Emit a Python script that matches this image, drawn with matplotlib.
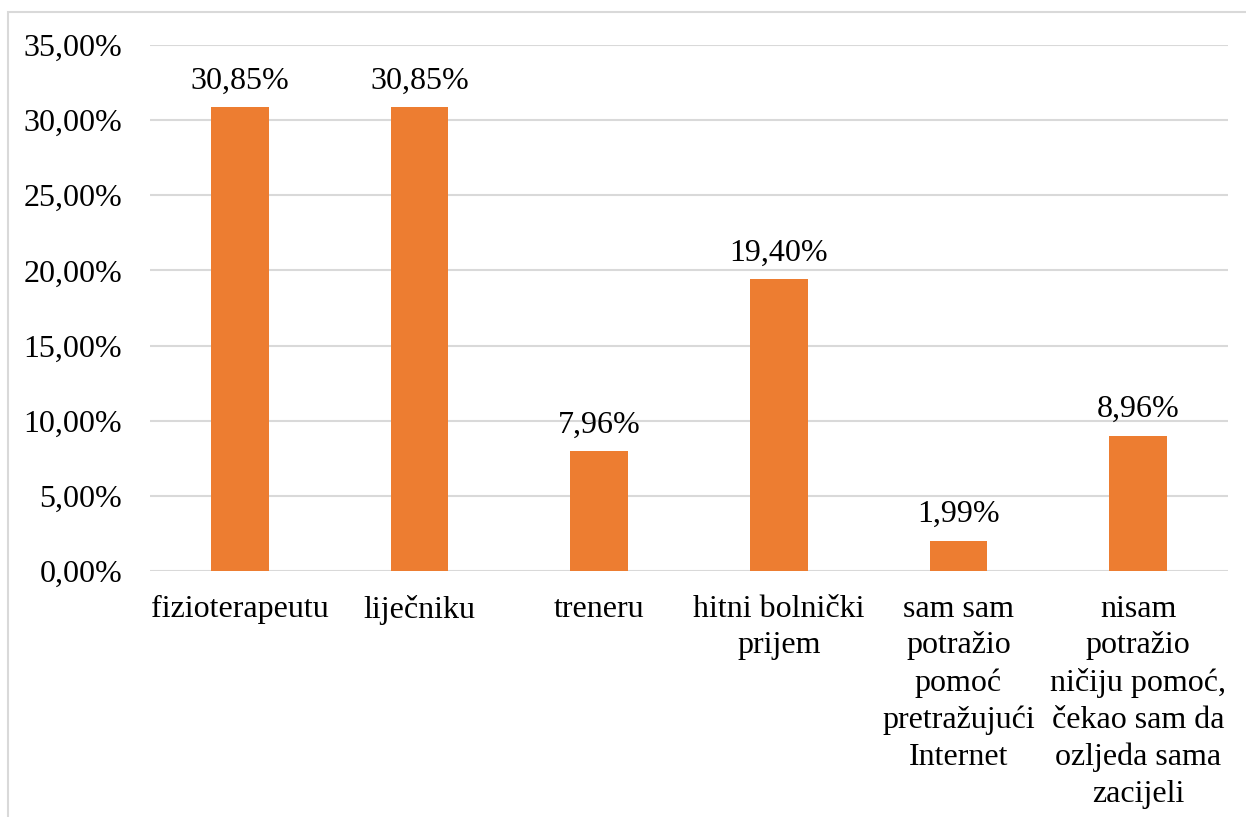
import matplotlib
matplotlib.use("Agg")
import matplotlib.pyplot as plt
from matplotlib.patches import Rectangle
from matplotlib.ticker import FuncFormatter

kategorije = ["fizioterapeutu", "liječniku", "treneru", "hitni bolnički\nprijem",
              "sam sam\npotražio\npomoć\npretražujući\nInternet",
              "nisam\npotražio\nničiju pomoć,\nčekao sam da\nozljeda sama\nzacijeli"]
postoci = [30.85, 30.85, 7.96, 19.40, 1.99, 8.96]
y_ticks = [0, 5, 10, 15, 20, 25, 30, 35]

plt.rcParams['font.family'] = ['Liberation Serif', 'DejaVu Serif']
fs = 23

fig = plt.figure(figsize=(12.46, 8.17), dpi=100)
ax = fig.add_axes([150/1246, 246/817, 1078/1246, 526/817])

x = range(len(kategorije))
bars = ax.bar(x, postoci, width=0.32, color="#ed7d31", zorder=3)
for b, v in zip(bars, postoci):
    ax.text(b.get_x() + b.get_width()/2, v + 0.8, ("%.2f" % v).replace(".", ",") + "%",
            ha="center", va="bottom", fontsize=fs)

ax.set_xlim(-0.5, len(kategorije) - 0.5)
ax.set_ylim(0, 35)
ax.set_yticks(y_ticks)
ax.yaxis.set_major_formatter(FuncFormatter(lambda v, p: ("%.2f" % v).replace(".", ",") + "%"))
ax.set_xticks(list(x))
ax.set_xticklabels(kategorije, fontsize=fs, linespacing=1.35, va="top")
ax.tick_params(axis="y", labelsize=fs, length=0, pad=20)
ax.tick_params(axis="x", length=0, pad=17)
ax.grid(axis="y", color="#d9d9d9", linewidth=1.5, zorder=0)
for s in ax.spines.values():
    s.set_visible(False)

fig.patches.append(Rectangle((8/1246, -0.1), 1.2, (817-12)/817 + 0.1, transform=fig.transFigure,
                             fill=False, edgecolor="#d9d9d9", linewidth=1.5))

fig.savefig("out.png", dpi=100)
